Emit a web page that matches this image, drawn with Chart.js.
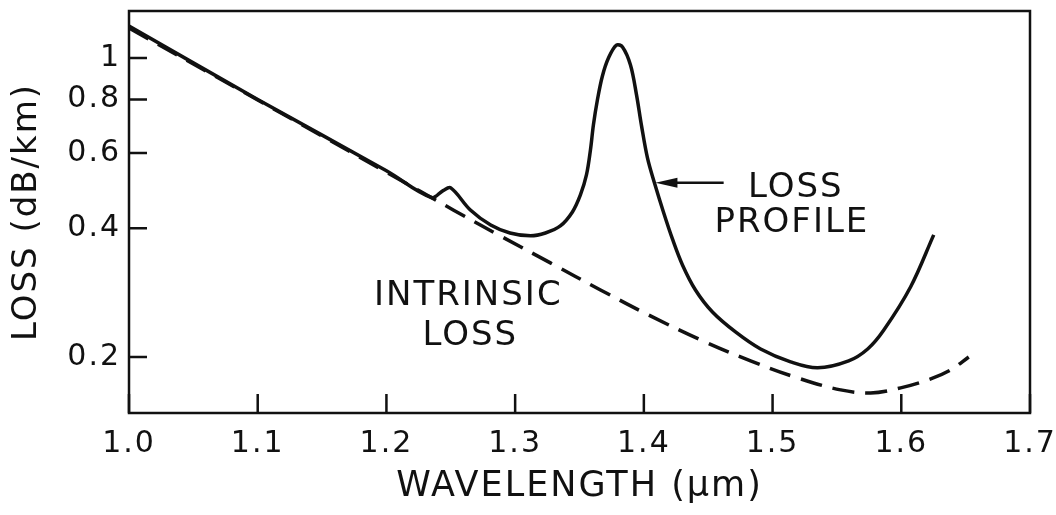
<!DOCTYPE html>
<html lang="en">
<head>
    <meta charset="UTF-8">
    <title>Fiber Loss Profile</title>
    <style>
        body {
            margin: 0;
            background: #fff;
        }
        .chart-box {
            position: relative;
            width: 1056px;
            height: 515px;
        }
    </style>
</head>
<body>
    <div class="chart-box">
        <canvas id="lossChart"></canvas>
    </div>
    <script src="https://cdn.jsdelivr.net/npm/chart.js"></script>
    <script>
        // loss profile (solid)
        const lossWavelength = [1.000, 1.100, 1.200, 1.235, 1.244, 1.250, 1.265, 1.281, 1.296, 1.312,
            1.3235, 1.3351, 1.3445, 1.3507, 1.3554, 1.3585, 1.3608, 1.3639, 1.3678, 1.3725,
            1.3787, 1.3834, 1.3896, 1.3943, 1.3981, 1.4028, 1.4082, 1.4152, 1.4222, 1.430,
            1.4401, 1.4533, 1.4712, 1.4907, 1.514, 1.535, 1.5591, 1.5739, 1.5863, 1.6073, 1.6252];
        const lossValues = [1.188, 0.800, 0.545, 0.472, 0.490, 0.497, 0.442, 0.407, 0.390, 0.384,
            0.390, 0.405, 0.4367, 0.4785, 0.5329, 0.6096, 0.6973, 0.798, 0.908, 1.000,
            1.072, 1.061, 0.963, 0.820, 0.697, 0.584, 0.511, 0.4367, 0.3777, 0.3284,
            0.287, 0.2549, 0.229, 0.2089, 0.1949, 0.1887, 0.1959, 0.2089, 0.231, 0.292, 0.386];

        // intrinsic loss (dashed)
        const intrinsicWavelength = [1.000, 1.100, 1.200, 1.2519, 1.2885, 1.3274, 1.3663, 1.4051, 1.444,
            1.4829, 1.5218, 1.5529, 1.5762, 1.5995, 1.6229, 1.6384, 1.6524];
        const intrinsicValues = [1.175, 0.798, 0.541, 0.4415, 0.3838, 0.332, 0.287, 0.2496, 0.2194,
            0.1959, 0.1778, 0.1676, 0.1649, 0.1694, 0.1778, 0.1866, 0.2001];

        const xTickValues = [1.0, 1.1, 1.2, 1.3, 1.4, 1.5, 1.6, 1.7];
        const xTickLabels = ['1.0', '1.1', '1.2', '1.3', '1.4', '1.5', '1.6', '1.7'];
        const yTickValues = [0.2, 0.4, 0.6, 0.8, 1];
        const yTickLabels = ['0.2', '0.4', '0.6', '0.8', '1'];

        const ink = '#111';
        const face = 'DejaVu Sans';

        const toPoints = (xs, ys) => xs.map((x, i) => ({ x: x, y: ys[i] }));

        const frameAndMarks = {
            id: 'frameAndMarks',
            beforeDraw(chart) {
                chart.ctx.letterSpacing = '2px';
            },
            afterDatasetsDraw(chart) {
                const { ctx, chartArea: a, scales: { x, y } } = chart;
                ctx.save();
                ctx.strokeStyle = ink;
                ctx.lineWidth = 2.5;
                ctx.strokeRect(a.left, a.top, a.right - a.left, a.bottom - a.top);
                ctx.beginPath();
                xTickValues.forEach(v => {
                    const px = x.getPixelForValue(v);
                    ctx.moveTo(px, a.bottom);
                    ctx.lineTo(px, a.bottom - 19);
                });
                yTickValues.forEach(v => {
                    const py = y.getPixelForValue(v);
                    ctx.moveTo(a.left, py);
                    ctx.lineTo(a.left + 18, py);
                });
                ctx.stroke();
                ctx.restore();
            },
            afterDraw(chart) {
                const { ctx, scales: { x, y } } = chart;
                ctx.save();
                ctx.fillStyle = ink;
                ctx.strokeStyle = ink;
                ctx.font = '34px "' + face + '"';
                ctx.letterSpacing = '2px';
                ctx.textAlign = 'center';
                ctx.textBaseline = 'alphabetic';
                const notes = [
                    { text: 'LOSS', x: 1.518, y: 0.4733 },
                    { text: 'PROFILE', x: 1.515, y: 0.392 },
                    { text: 'INTRINSIC', x: 1.2636, y: 0.2648 },
                    { text: 'LOSS', x: 1.2652, y: 0.2136 }
                ];
                notes.forEach(n => ctx.fillText(n.text, x.getPixelForValue(n.x), y.getPixelForValue(n.y)));

                // arrow pointing at the loss profile curve
                const ay = y.getPixelForValue(0.511);
                const x0 = x.getPixelForValue(1.462);
                const x1 = x.getPixelForValue(1.409);
                ctx.lineWidth = 2.5;
                ctx.beginPath();
                ctx.moveTo(x0, ay);
                ctx.lineTo(x1 + 18, ay);
                ctx.stroke();
                ctx.beginPath();
                ctx.moveTo(x1, ay);
                ctx.lineTo(x1 + 22, ay - 5);
                ctx.lineTo(x1 + 22, ay + 5);
                ctx.closePath();
                ctx.fill();
                ctx.restore();
            }
        };

        new Chart(document.getElementById('lossChart'), {
            type: 'line',
            data: {
                datasets: [{
                    label: 'Loss profile',
                    data: toPoints(lossWavelength, lossValues),
                    borderColor: ink,
                    borderWidth: 3.5,
                    pointRadius: 0,
                    fill: false,
                    tension: 0.35
                }, {
                    label: 'Intrinsic loss',
                    data: toPoints(intrinsicWavelength, intrinsicValues),
                    borderColor: ink,
                    borderWidth: 3.5,
                    borderDash: [22, 11],
                    pointRadius: 0,
                    fill: false,
                    tension: 0.35
                }]
            },
            options: {
                responsive: true,
                maintainAspectRatio: false,
                animation: false,
                layout: { padding: { top: 11, right: 26, bottom: 0, left: 0 } },
                plugins: {
                    legend: { display: false },
                    tooltip: { enabled: false }
                },
                scales: {
                    x: {
                        type: 'linear',
                        min: 1.0,
                        max: 1.7,
                        afterBuildTicks: s => { s.ticks = xTickValues.map(v => ({ value: v })); },
                        afterFit: s => { s.height = 102; s.paddingLeft = 0; s.paddingRight = 0; },
                        grid: { display: false, drawTicks: false },
                        border: { display: false },
                        ticks: {
                            callback: (v, i) => xTickLabels[i],
                            color: ink,
                            font: { family: face, size: 30 },
                            padding: 13,
                            maxRotation: 0,
                            autoSkip: false
                        },
                        title: {
                            display: true,
                            text: 'WAVELENGTH (μm)',
                            color: ink,
                            font: { family: face, size: 35 },
                            padding: { top: 0, bottom: 7 }
                        }
                    },
                    y: {
                        type: 'logarithmic',
                        min: 0.148,
                        max: 1.288,
                        afterBuildTicks: s => { s.ticks = yTickValues.map(v => ({ value: v })); },
                        afterFit: s => { s.width = 129; s.paddingTop = 0; s.paddingBottom = 0; },
                        grid: { display: false, drawTicks: false },
                        border: { display: false },
                        ticks: {
                            callback: (v, i) => yTickLabels[i],
                            color: ink,
                            font: { family: face, size: 30 },
                            padding: 8,
                            autoSkip: false
                        },
                        title: {
                            display: true,
                            text: 'LOSS (dB/km)',
                            color: ink,
                            font: { family: face, size: 34 },
                            padding: { top: 7, bottom: 0 }
                        }
                    }
                }
            },
            plugins: [frameAndMarks]
        });
    </script>
</body>
</html>
